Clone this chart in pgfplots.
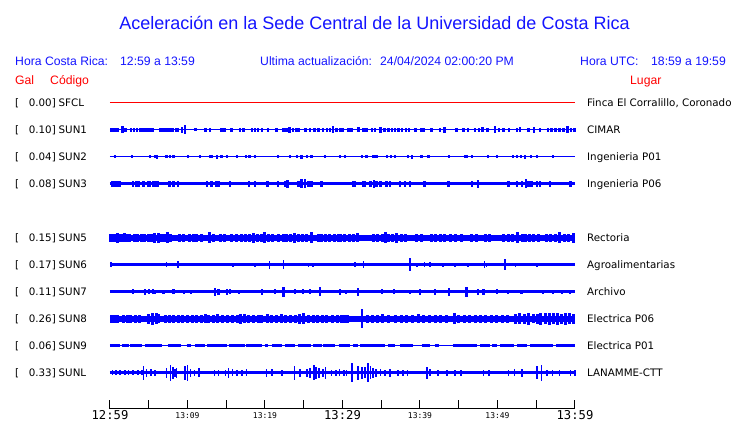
\documentclass[border=0pt]{standalone}
\usepackage{fontspec}
\setmainfont{DejaVu Sans}
\newfontfamily\lib{Liberation Sans}
\newfontfamily\monofont{DejaVu Sans Mono}
\usepackage{pgfplots}
\pgfplotsset{compat=1.18}
\definecolor{trc}{RGB}{0,0,255}
\definecolor{hdrblue}{RGB}{20,20,255}
\pgfplotsset{
  spk/.style={draw=none, mark=none, error bars/.cd, y dir=both, y explicit, error mark=none,
    error bar style={draw=trc, line width=#1}},
  spk/.default=1.5pt,
  base/.style={trc, line width=#1, mark=none},
}
\newcommand{\bigt}[1]{{\monofont\fontsize{12.2}{12.2}\selectfont #1}}
\newcommand{\smlt}[1]{{\monofont\fontsize{8}{8}\selectfont #1}}
\begin{document}
\begin{tikzpicture}[
  hdr/.style={anchor=base west, inner sep=0pt, font=\lib\fontsize{12.2}{14}\selectfont, text=hdrblue},
  hdrr/.style={anchor=base west, inner sep=0pt, font=\lib\fontsize{12.2}{14}\selectfont, text=red},
  lbl/.style={anchor=base west, inner sep=0pt, font=\fontsize{10.3}{12}\selectfont},
  lble/.style={anchor=base east, inner sep=0pt, font=\fontsize{10.3}{12}\selectfont},
]
\useasboundingbox (-110pt,-14pt) rectangle (630pt,409pt);
\begin{axis}[
  at={(0pt,0pt)}, anchor=south west,
  scale only axis, width=465pt, height=409pt,
  xmin=0, xmax=60, ymin=0, ymax=409,
  axis x line*=bottom, axis y line=none, ytick=\empty,
  xtick={0,10,20,30,40,50,60},
  xticklabels={\bigt{12:59},\smlt{13:09},\smlt{13:19},\bigt{13:29},\smlt{13:39},\smlt{13:49},\bigt{13:59}},
  minor xtick={5,15,25,35,45,55},
  tick align=inside,
  major tick length=9pt, minor tick length=9pt,
  every tick/.style={black, line width=1pt},
  axis line style={black, line width=1pt},
  xticklabel style={anchor=center, inner sep=0pt, yshift=-6.5pt},
  clip=false,
]
% SFCL
\addplot[red, line width=1pt] coordinates {(0,306) (60,306)};
% SUN1
\addplot[base=1pt] coordinates {(0,279) (60,279)};
\addplot[spk=2.6pt] table[row sep=\\, header=false, x index=0, y index=1, y error index=2] {
0.2 279 2\\ 0.6 279 2\\ 1.0 279 2\\ 1.6 279 3.5\\ 2.0 279 2\\ 2.7 279 2\\ 3.1 279 2\\ 3.5 279 2\\ 3.9 279 2\\ 4.3 279 2\\ 4.7 279 2\\ 5.1 279 2\\ 5.5 279 2\\ 6.5 279 2\\ 6.9 279 2\\ 7.3 279 2\\ 7.7 279 2\\ 8.1 279 2\\ 8.5 279 2\\ 8.8 279 2\\ 9.3 279 3\\ 9.7 279 4.5\\ 11.0 279 1.5\\ 12.3 279 2\\ 12.9 279 2\\ 14.4 279 2\\ 14.8 279 2\\ 15.7 279 2\\ 16.8 279 2\\ 17.2 279 2\\ 18.3 279 2\\ 18.7 279 2\\ 19.1 279 2\\ 19.6 279 2\\ 20.4 279 2\\ 21.5 279 2\\ 22.4 279 2\\ 22.8 279 2\\ 23.2 279 3\\ 23.6 279 2\\ 24.0 279 2\\ 24.3 279 2\\ 25.2 279 2\\ 25.8 279 2\\ 26.4 279 2\\ 26.9 279 2\\ 27.5 279 2\\ 28.0 279 2\\ 28.4 279 2\\ 28.8 279 3.5\\ 29.2 279 2\\ 29.7 279 2\\ 30.0 279 2\\ 30.8 279 2\\ 31.2 279 2\\ 32.1 279 2.5\\ 32.7 279 2\\ 33.1 279 2\\ 33.8 279 2\\ 34.2 279 2\\ 34.9 279 3\\ 35.4 279 2\\ 35.9 279 2\\ 36.4 279 2\\ 36.8 279 2\\ 37.2 279 2\\ 37.7 279 2\\ 38.2 279 2\\ 38.6 279 2\\ 39.4 279 2\\ 40.2 279 2\\ 40.5 279 2\\ 41.5 279 2\\ 42.6 279 2\\ 43.2 279 3\\ 44.7 279 2\\ 45.6 279 2\\ 46.2 279 2\\ 47.1 279 2\\ 47.6 279 2\\ 48.1 279 2.5\\ 48.7 279 2\\ 49.7 279 3.5\\ 50.2 279 2\\ 50.8 279 2\\ 51.5 279 2\\ 52.5 279 2\\ 52.9 279 2.5\\ 54.0 279 2\\ 54.7 279 3\\ 55.5 279 2\\ 56.5 279 2\\ 57.0 279 2\\ 57.5 279 2\\ 58.0 279 2\\ 58.5 279 2\\ 59.0 279 3.5\\ 59.5 279 2\\ 59.9 279 2\\
};
% SUN2
\addplot[base=1pt] coordinates {(0,252) (60,252)};
\addplot[spk=2.2pt] table[row sep=\\, header=false, x index=0, y index=1, y error index=2] {
0.6 252 1.5\\ 2.8 252 1.5\\ 5.2 252 1.5\\ 5.8 252 1.5\\ 6.1 252 2\\ 7.3 252 1.5\\ 7.7 252 1.5\\ 8.2 252 1.5\\ 10.1 252 1.5\\ 11.6 252 1.5\\ 12.9 252 1.5\\ 13.1 252 1.5\\ 13.8 252 2\\ 14.4 252 1.5\\ 15.1 252 1.5\\ 16.4 252 1.5\\ 17.6 252 1.5\\ 18.0 252 1.5\\ 18.7 252 1.5\\ 21.7 252 1.5\\ 23.2 252 1.5\\ 24.1 252 1.5\\ 24.7 252 2\\ 25.4 252 1.5\\ 26.0 252 1.5\\ 27.7 252 1.5\\ 29.7 252 1.5\\ 30.3 252 1.5\\ 32.5 252 1.5\\ 33.1 252 1.5\\ 34.0 252 1.5\\ 34.4 252 1.5\\ 35.7 252 1.5\\ 36.3 252 1.5\\ 36.8 252 1.5\\ 38.5 252 1.5\\ 39.0 252 2\\ 40.2 252 1.5\\ 41.1 252 1.5\\ 43.7 252 1.5\\ 45.8 252 1.5\\ 46.0 252 1.5\\ 46.7 252 1.5\\ 48.8 252 1.5\\ 49.9 252 1.5\\ 52.0 252 1.5\\ 52.5 252 1.5\\ 53.0 252 1.5\\ 53.5 252 2\\ 54.3 252 1.5\\ 55.1 252 1.5\\ 57.2 252 1.5\\
};
% SUN3
\addplot[base=3pt] coordinates {(0,225) (60,225)};
\addplot[spk=2.4pt] table[row sep=\\, header=false, x index=0, y index=1, y error index=2] {
0.3 225 3.3\\ 0.7 225 3.3\\ 1.0 225 3.3\\ 1.3 225 3.3\\ 3.0 225 3.3\\ 3.4 225 3.3\\ 3.7 225 3.3\\ 4.3 225 3.3\\ 4.9 225 3.3\\ 5.2 225 3.3\\ 5.6 225 3.3\\ 6.0 225 3.3\\ 6.2 225 3.3\\ 7.7 225 3.3\\ 8.2 225 3.3\\ 8.8 225 3.3\\ 12.5 225 3.3\\ 13.1 225 3.3\\ 13.7 225 3.3\\ 14.0 225 3.3\\ 15.5 225 3.3\\ 17.9 225 3.3\\ 18.7 225 3.3\\ 20.3 225 3.3\\ 21.7 225 3.3\\ 22.6 225 3.3\\ 22.9 225 4\\ 24.3 225 3.3\\ 24.7 225 4.5\\ 25.2 225 4.5\\ 25.6 225 3.3\\ 26.0 225 3.3\\ 27.3 225 3.3\\ 31.4 225 3.3\\ 31.6 225 3.3\\ 32.7 225 3.3\\ 32.9 225 3.3\\ 33.6 225 3.3\\ 34.1 225 4\\ 34.4 225 3.3\\ 34.9 225 3.3\\ 35.7 225 3.3\\ 36.1 225 3.3\\ 37.4 225 3.3\\ 38.1 225 3.3\\ 38.7 225 3.3\\ 40.6 225 3.3\\ 43.7 225 3.3\\ 46.7 225 3.3\\ 47.5 225 4\\ 51.4 225 3.3\\ 52.5 225 3.3\\ 53.2 225 3.3\\ 53.7 225 4.5\\ 54.0 225 3.3\\ 54.4 225 3.3\\ 55.1 225 3.3\\ 55.5 225 3.3\\ 56.8 225 3.3\\ 59.4 225 3.3\\
};
% SUN5
\addplot[base=5.5pt] coordinates {(0,171) (60,171)};
\addplot[spk=3pt] table[row sep=\\, header=false, x index=0, y index=1, y error index=2] {
0.1 171 4\\ 0.4 171 4\\ 0.7 171 4\\ 1.0 171 5\\ 1.3 171 4\\ 1.6 171 4\\ 1.9 171 4.5\\ 2.2 171 4\\ 2.5 171 4\\ 3.2 171 4\\ 3.6 171 4\\ 4.1 171 4\\ 4.5 171 4\\ 5.0 171 4\\ 5.4 171 4\\ 5.8 171 5\\ 6.2 171 5\\ 6.6 171 4\\ 7.0 171 4\\ 7.4 171 5.5\\ 7.8 171 4\\ 9.0 171 4\\ 9.5 171 4\\ 10.3 171 4\\ 10.8 171 4\\ 11.2 171 4\\ 11.8 171 4\\ 12.9 171 5.5\\ 13.3 171 4\\ 14.2 171 4\\ 14.8 171 4\\ 15.7 171 4\\ 16.3 171 4\\ 17.0 171 4\\ 17.5 171 4\\ 18.0 171 4\\ 18.5 171 5\\ 19.0 171 4\\ 19.6 171 4\\ 20.0 171 5.5\\ 20.5 171 4\\ 21.0 171 4\\ 21.7 171 4\\ 22.4 171 4\\ 22.8 171 4\\ 23.3 171 4\\ 23.8 171 5\\ 24.3 171 4\\ 24.9 171 4\\ 25.4 171 4\\ 26.0 171 5.5\\ 26.9 171 4\\ 27.3 171 4\\ 27.8 171 4\\ 28.3 171 4\\ 29.0 171 4\\ 29.5 171 4\\ 29.8 171 4\\ 30.3 171 4\\ 30.9 171 4\\ 31.4 171 4\\ 32.0 171 4.5\\ 34.0 171 4\\ 34.5 171 4\\ 35.1 171 4\\ 35.6 171 5.5\\ 36.0 171 4\\ 36.5 171 4\\ 37.0 171 5\\ 37.6 171 4\\ 38.1 171 4\\ 39.6 171 4\\ 40.2 171 4\\ 41.5 171 4\\ 42.0 171 4\\ 42.7 171 4\\ 43.2 171 4\\ 44.0 171 4\\ 44.6 171 4\\ 45.4 171 4\\ 46.7 171 4\\ 47.3 171 4\\ 48.4 171 4\\ 49.0 171 4\\ 50.8 171 4\\ 51.4 171 4\\ 52.0 171 4\\ 52.6 171 5.5\\ 53.2 171 4\\ 53.6 171 4\\ 54.1 171 4\\ 54.7 171 4\\ 55.3 171 4\\ 56.3 171 4\\ 56.9 171 4\\ 57.5 171 4\\ 58.0 171 5.5\\ 58.6 171 4\\ 59.2 171 4\\ 59.8 171 5\\
};
% SUN6
\addplot[base=3pt] coordinates {(0,144) (60,144)};
\addplot[spk=1.5pt] table[row sep=\\, header=false, x index=0, y index=1, y error index=2] {
0.1 144 2.5\\ 7.3 144 2.5\\ 8.8 144 3.5\\ 15.9 144 2\\ 18.7 144 2\\ 20.6 144 4\\ 22.4 144 4.5\\ 25.6 144 2\\ 26.2 144 2\\ 31.6 144 2.5\\ 32.7 144 3.5\\ 38.7 144 6.5\\ 39.6 144 2\\ 40.6 144 2.5\\ 41.3 144 2.5\\ 43.0 144 2\\ 44.5 144 2\\ 46.2 144 2\\ 48.3 144 3.5\\ 48.6 144 2\\ 51.0 144 5.5\\ 52.3 144 2\\ 55.1 144 2\\
};
% SUN7
\addplot[base=3pt] coordinates {(0,117) (60,117)};
\addplot[spk=2.2pt] table[row sep=\\, header=false, x index=0, y index=1, y error index=2] {
3.0 117 2.5\\ 4.5 117 3\\ 5.0 117 2.5\\ 5.5 117 2.5\\ 5.8 117 2\\ 6.9 117 2\\ 8.2 117 2.5\\ 9.5 117 2\\ 10.5 117 2\\ 13.5 117 4\\ 14.0 117 3\\ 15.1 117 3\\ 15.5 117 2.5\\ 16.6 117 2\\ 19.6 117 3\\ 21.3 117 2.5\\ 22.4 117 5\\ 23.9 117 2.5\\ 24.9 117 2.5\\ 25.8 117 2.5\\ 27.1 117 4.5\\ 29.7 117 3\\ 30.5 117 2\\ 32.0 117 4\\ 35.1 117 2.5\\ 36.6 117 2.5\\ 38.7 117 2\\ 40.0 117 3\\ 41.9 117 3\\ 43.7 117 4\\ 46.0 117 5\\ 47.5 117 3\\ 48.2 117 3\\ 49.9 117 2.5\\ 51.4 117 2\\ 53.1 117 2\\ 55.9 117 2\\ 57.2 117 2\\ 58.3 117 2\\ 59.4 117 2\\
};
% SUN8
\addplot[base=5.5pt] coordinates {(0,90) (60,90)};
\addplot[spk=3pt] table[row sep=\\, header=false, x index=0, y index=1, y error index=2] {
0.2 90 4\\ 0.6 90 4\\ 1.0 90 4\\ 1.7 90 4\\ 2.2 90 4\\ 2.7 90 4\\ 3.3 90 4\\ 3.8 90 4\\ 5.0 90 5\\ 5.5 90 6\\ 6.0 90 5.5\\ 6.3 90 4.5\\ 7.1 90 4\\ 7.7 90 4\\ 8.2 90 4\\ 8.8 90 4\\ 9.4 90 4\\ 10.0 90 4\\ 10.6 90 4\\ 11.2 90 4\\ 11.8 90 4\\ 12.3 90 4.5\\ 12.7 90 4\\ 13.3 90 4\\ 13.9 90 4.5\\ 14.5 90 4\\ 15.1 90 4\\ 15.8 90 4\\ 16.4 90 4\\ 16.8 90 5\\ 17.4 90 4.5\\ 17.9 90 4\\ 18.5 90 4\\ 19.1 90 4\\ 19.6 90 4\\ 20.3 90 4.5\\ 20.9 90 4\\ 21.5 90 4\\ 22.1 90 4.5\\ 22.7 90 4\\ 23.3 90 4\\ 23.9 90 4\\ 24.5 90 5\\ 25.0 90 5.5\\ 25.6 90 4\\ 26.2 90 4\\ 26.8 90 4\\ 27.4 90 4\\ 28.0 90 4\\ 28.7 90 4\\ 29.3 90 4\\ 29.9 90 4\\ 30.3 90 4\\ 30.7 90 4\\ 33.2 90 4\\ 33.9 90 4\\ 34.5 90 4\\ 35.1 90 4.5\\ 36.0 90 4\\ 36.8 90 4\\ 37.6 90 4\\ 38.3 90 4\\ 39.0 90 4\\ 39.8 90 4.5\\ 40.5 90 4\\ 41.2 90 4\\ 42.0 90 4\\ 42.7 90 4\\ 43.4 90 4\\ 44.5 90 5.5\\ 45.0 90 4\\ 45.7 90 4\\ 46.4 90 4\\ 47.1 90 4\\ 47.8 90 4\\ 48.5 90 4\\ 49.2 90 4\\ 49.9 90 4\\ 50.6 90 4\\ 51.3 90 4\\ 52.3 90 5\\ 52.9 90 5.5\\ 53.5 90 5\\ 54.0 90 6\\ 54.6 90 4.5\\ 55.1 90 5\\ 55.6 90 6\\ 56.2 90 5.5\\ 56.7 90 6\\ 57.2 90 5.5\\ 57.7 90 6\\ 58.3 90 5\\ 58.8 90 6\\ 59.3 90 5.5\\ 59.8 90 5\\
};
\addplot[spk=1.3pt] table[row sep=\\, header=false, x index=0, y index=1, y error index=2] {
32.5 90 9.5\\
};
% SUN9
\addplot[base=1pt] coordinates {(0,63) (60,63)};
\addplot[trc, line width=3pt, mark=none, unbounded coords=jump] coordinates {
(0,63)(1.3,63)(1.3,nan)(1.5,63)(2.4,63)(2.4,nan)(2.6,63)(4.1,63)(4.1,nan)(4.5,63)(6.7,63)(6.7,nan)
(7.5,63)(9.2,63)(9.2,nan)(9.9,63)(10.5,63)(10.5,nan)(11.0,63)(12.3,63)(12.3,nan)(12.5,63)(15.1,63)(15.1,nan)
(15.3,63)(17.4,63)(17.4,nan)(17.6,63)(19.6,63)(19.6,nan)(20.0,63)(20.4,63)(20.4,nan)(20.9,63)(22.2,63)(22.2,nan)
(22.6,63)(23.9,63)(23.9,nan)(24.3,63)(26.0,63)(26.0,nan)(26.2,63)(27.3,63)(27.3,nan)(27.5,63)(29.0,63)(29.0,nan)
(29.5,63)(31.0,63)(31.0,nan)(31.4,63)(32.0,63)(32.0,nan)(32.3,63)(35.5,63)(35.5,nan)(35.9,63)(36.8,63)(36.8,nan)
(37.4,63)(39.1,63)(39.1,nan)(40.2,63)(41.3,63)(41.3,nan)(41.9,63)(42.4,63)(42.4,nan)(44.3,63)(47.3,63)(47.3,nan)
(47.8,63)(49.0,63)(49.0,nan)(49.3,63)(49.9,63)(49.9,nan)(50.3,63)(52.1,63)(52.1,nan)(52.5,63)(53.8,63)(53.8,nan)
(54.2,63)(57.2,63)(57.2,nan)(57.6,63)(60,63)
};
% SUNL
\addplot[base=3pt] coordinates {(0,36) (60,36)};
\addplot[spk=1.6pt] table[row sep=\\, header=false, x index=0, y index=1, y error index=2] {
0.3 36 2.5\\ 0.8 36 2.5\\ 1.3 36 2.5\\ 1.9 36 2.5\\ 2.4 36 2.5\\ 3.0 36 2.5\\ 3.6 36 2.5\\ 4.1 36 2.5\\ 4.3 36 7\\ 4.7 36 4\\ 5.3 36 3.5\\ 5.8 36 3\\ 7.3 36 5\\ 7.8 36 8\\ 8.1 36 6\\ 8.4 36 4\\ 8.6 36 5\\ 9.7 36 7\\ 10.0 36 8\\ 10.4 36 4\\ 10.9 36 3\\ 11.5 36 4.5\\ 13.5 36 3\\ 14.0 36 3\\ 14.9 36 3\\ 15.3 36 5\\ 15.8 36 3.5\\ 16.4 36 3\\ 17.0 36 3\\ 17.6 36 3.5\\ 20.2 36 4\\ 20.9 36 3.5\\ 22.2 36 3\\ 23.8 36 7\\ 24.5 36 4\\ 25.4 36 4\\ 25.8 36 5\\ 26.3 36 7.5\\ 26.6 36 6\\ 27.0 36 5\\ 27.5 36 4\\ 27.8 36 6\\ 28.6 36 3\\ 29.2 36 3\\ 29.6 36 3.5\\ 30.2 36 3\\ 30.5 36 3\\ 31.2 36 9.5\\ 32.0 36 7\\ 32.5 36 6\\ 32.9 36 5.5\\ 33.3 36 9.5\\ 33.6 36 6.5\\ 33.9 36 5\\ 34.3 36 4\\ 34.9 36 3.5\\ 35.5 36 3\\ 36.1 36 4\\ 37.2 36 3\\ 37.8 36 3\\ 38.4 36 3\\ 40.9 36 6\\ 41.3 36 3.5\\ 42.3 36 3\\ 43.5 36 3\\ 44.5 36 3\\ 45.3 36 3\\ 48.2 36 3\\ 48.9 36 3\\ 51.4 36 3\\ 52.2 36 3.5\\ 53.2 36 4\\ 55.1 36 6.5\\ 55.7 36 8\\ 56.4 36 3\\ 57.1 36 3\\ 58.0 36 3\\ 59.4 36 3\\ 60.0 36 3\\
};
\end{axis}
% title and headers
\node[anchor=base, inner sep=0pt, font=\lib\fontsize{18}{20}\selectfont, text=hdrblue] at (264.5pt,379.7pt) {Aceleración en la Sede Central de la Universidad de Costa Rica};
\node[hdr] at (-95pt,343.7pt) {Hora Costa Rica:};
\node[hdr] at (10pt,343.7pt) {12:59 a 13:59};
\node[hdr] at (150pt,343.7pt) {Ultima actualización:};
\node[hdr] at (270pt,343.7pt) {24/04/2024 02:00:20 PM};
\node[hdr] at (470pt,343.7pt) {Hora UTC:};
\node[hdr] at (541pt,343.7pt) {18:59 a 19:59};
\node[hdrr] at (-95pt,324pt) {Gal};
\node[hdrr] at (-60pt,324pt) {Código};
\node[hdrr] at (520pt,324pt) {Lugar};
% row labels
\foreach \yb/\num/\code/\place in {302.2/0.00/SFCL/{Finca El Corralillo, Coronado}, 275.2/0.10/SUN1/CIMAR, 248.2/0.04/SUN2/Ingenieria P01, 221.2/0.08/SUN3/Ingenieria P06, 167.2/0.15/SUN5/Rectoria, 140.2/0.17/SUN6/Agroalimentarias, 113.2/0.11/SUN7/Archivo, 86.2/0.26/SUN8/Electrica P06, 59.2/0.06/SUN9/Electrica P01, 32.2/0.33/SUNL/LANAMME-CTT}{
  \node[lbl] at (-95pt,\yb pt) {[};
  \node[lble] at (-54pt,\yb pt) {\num]};
  \node[lbl] at (-51.5pt,\yb pt) {\code};
  \node[lbl] at (477pt,\yb pt) {\place};
}
\end{tikzpicture}
\end{document}
